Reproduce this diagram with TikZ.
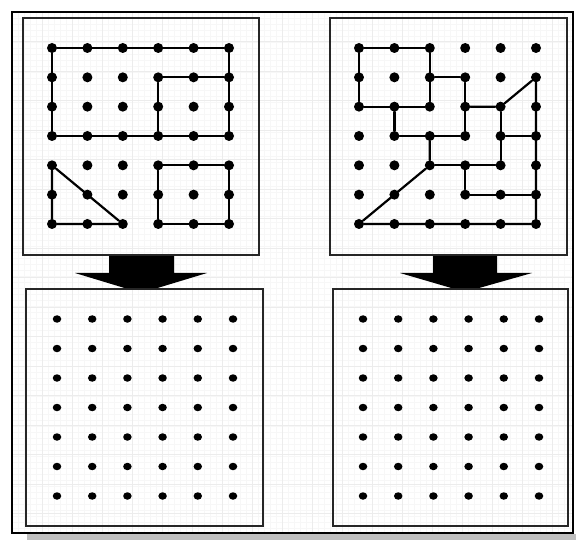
\documentclass[tikz,border=0pt]{standalone}
\usetikzlibrary{shapes.geometric}
\begin{document}
\begin{tikzpicture}[x=1pt, y=-1pt,
        panel/.style={draw=black!85, line width=2.2pt},
        dot/.style={circle, fill=black, inner sep=0pt, minimum size=10pt},
        smalldot/.style={ellipse, fill=black, inner sep=0pt, minimum width=8.5pt, minimum height=7.5pt},
        link/.style={line width=2.2pt, line cap=round, line join=round},
        shift arrow/.style={fill=black}]
        \useasboundingbox (0,0) rectangle (576,540);

        % Frame and background grid
        \fill[gray!50] (27,534) rectangle (576,540);
        \fill[white] (12,12) rectangle (573,533);
        \begin{scope}
                \clip (12,12) rectangle (573,533);
                \foreach \x in {12,18,...,576} \draw[gray!6, line width=0.5pt] (\x,12) -- (\x,533);
                \foreach \y in {12,18,...,534} \draw[gray!6, line width=0.5pt] (12,\y) -- (573,\y);
                \foreach \x in {12,42,...,576} \draw[gray!15, line width=0.7pt] (\x,12) -- (\x,533);
                \foreach \y in {12,41.5,...,534} \draw[gray!15, line width=0.7pt] (12,\y) -- (573,\y);
        \end{scope}
        \draw[line width=2.2pt] (12,12) rectangle (573,533);

        % Arrows (tips hidden under the lower panels)
        \begin{scope}
                \clip (0,0) rectangle (576,289);
                \fill[shift arrow] (109,255) -- (174,255) -- (174,273) -- (207,273)
                        -- (141,293) -- (75,273) -- (109,273) -- cycle;
                \fill[shift arrow] (433,255) -- (497,255) -- (497,273) -- (532,273)
                        -- (465,292) -- (400,273) -- (433,273) -- cycle;
        \end{scope}

        % Panels
        \draw[panel] (23,18) rectangle (259,255);
        \draw[panel] (330,18) rectangle (567,255);
        \draw[panel] (26,289) rectangle (263,526);
        \draw[panel] (333,289) rectangle (568,526);

        % Dots
        \foreach \c in {0,...,5} {
                \foreach \r in {0,...,6} {
                        \node[dot] (tl-\c-\r) at (52+35.4*\c, 48+29.33*\r) {};
                        \node[dot] (tr-\c-\r) at (359+35.4*\c, 48+29.33*\r) {};
                        \node[smalldot] (bl-\c-\r) at (57+35.2*\c, 319+29.5*\r) {};
                        \node[smalldot] (br-\c-\r) at (363+35.2*\c, 319+29.5*\r) {};
                }
        }

        % Shapes, top left
        \draw[link] (tl-0-0) -- (tl-5-0) -- (tl-5-3) -- (tl-0-3) -- (tl-0-0);
        \draw[link] (tl-3-3) -- (tl-3-1) -- (tl-5-1);
        \draw[link] (tl-0-4) -- (tl-0-6) -- (tl-2-6) -- (tl-0-4);
        \draw[link] (tl-3-4) -- (tl-5-4) -- (tl-5-6) -- (tl-3-6) -- (tl-3-4);

        % Shapes, top right
        \draw[link] (tr-0-0) -- (tr-2-0) -- (tr-2-2) -- (tr-0-2) -- (tr-0-0);
        \draw[link] (tr-2-1) -- (tr-3-1) -- (tr-3-3) -- (tr-1-3) -- (tr-1-2);
        \draw[link] (tr-3-2) -- (tr-4-2) -- (tr-5-1) -- (tr-5-6) -- (tr-0-6) -- (tr-2-4) -- (tr-2-3);
        \draw[link] (tr-4-2) -- (tr-4-4) -- (tr-2-4);
        \draw[link] (tr-4-3) -- (tr-5-3);
        \draw[link] (tr-3-4) -- (tr-3-5) -- (tr-5-5);
\end{tikzpicture}
\end{document}
